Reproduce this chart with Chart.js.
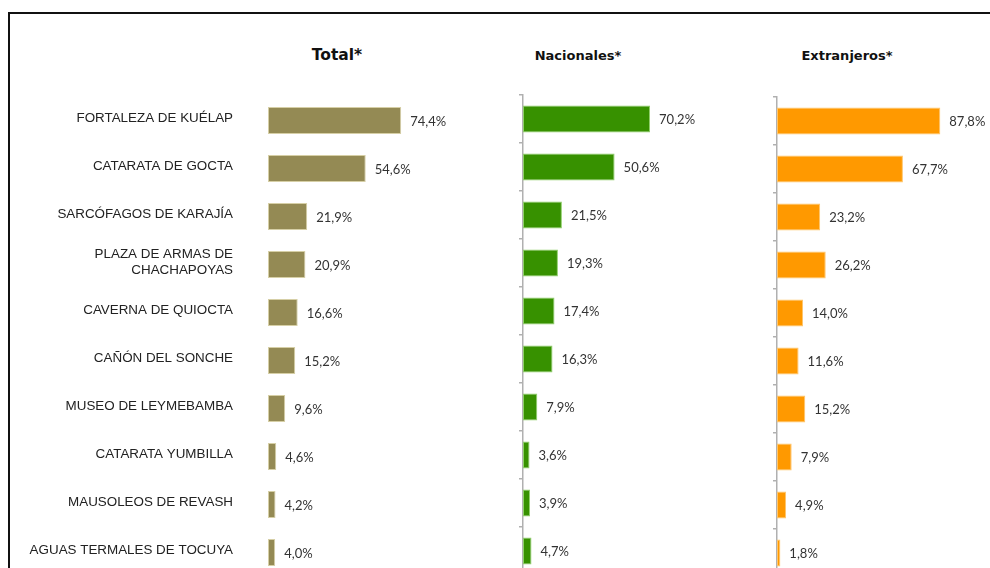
<!DOCTYPE html>
<html><head><meta charset="utf-8">
<script src="https://cdn.jsdelivr.net/npm/chart.js@4.4.1/dist/chart.umd.min.js"></script>
<style>
html,body{margin:0;padding:0;width:990px;height:568px;overflow:hidden;background:#fff;}
#frame{position:absolute;left:8px;top:12px;width:1000px;height:600px;border-top:2px solid #111;border-left:2px solid #111;}
.t{position:absolute;font-family:"DejaVu Sans",sans-serif;font-weight:bold;color:#111;transform:translate(-50%,-50%);white-space:nowrap;}
canvas{position:absolute;top:0;}
</style></head><body>
<div id="frame"></div>
<div class="t" style="left:337px;top:55px;font-size:15.5px">Total*</div>
<div class="t" style="left:578px;top:55px;font-size:13px">Nacionales*</div>
<div class="t" style="left:847px;top:55px;font-size:13px">Extranjeros*</div>
<canvas id="c1" width="500" height="600" style="left:0px"></canvas>
<canvas id="c2" width="300" height="600" style="left:480px"></canvas>
<canvas id="c3" width="250" height="600" style="left:740px"></canvas>
<script>
const categories = ['FORTALEZA DE KUÉLAP', 'CATARATA DE GOCTA', 'SARCÓFAGOS DE KARAJÍA', ['PLAZA DE ARMAS DE', 'CHACHAPOYAS'], 'CAVERNA DE QUIOCTA', 'CAÑÓN DEL SONCHE', 'MUSEO DE LEYMEBAMBA', 'CATARATA YUMBILLA', 'MAUSOLEOS DE REVASH', 'AGUAS TERMALES DE TOCUYA'];
const total = [74.4, 54.6, 21.9, 20.9, 16.6, 15.2, 9.6, 4.6, 4.2, 4.0];
const nacionales = [70.2, 50.6, 21.5, 19.3, 17.4, 16.3, 7.9, 3.6, 3.9, 4.7];
const extranjeros = [87.8, 67.7, 23.2, 26.2, 14.0, 11.6, 15.2, 7.9, 4.9, 1.8];
const panelTitles = ['Total*', 'Nacionales*', 'Extranjeros*'];

const valueLabels = {
  id: 'valueLabels',
  afterDatasetsDraw(chart) {
    const ctx = chart.ctx;
    const meta = chart.getDatasetMeta(0);
    const data = chart.data.datasets[0].data;
    ctx.save();
    ctx.font = '13px Lato, "Open Sans", sans-serif';
    ctx.fillStyle = '#333';
    ctx.textAlign = 'left';
    ctx.textBaseline = 'middle';
    meta.data.forEach((bar, i) => {
      const txt = data[i].toFixed(1).replace('.', ',') + '%';
      ctx.fillText(txt, bar.x + 9, bar.y + 1);
    });
    ctx.restore();
  }
};

function make(id, values, color, border, leftWidth, top, showLabels, areaWidth, canvasWidth) {
  return new Chart(document.getElementById(id), {
    type: 'bar',
    data: {
      labels: categories,
      datasets: [{
        data: values,
        backgroundColor: color,
        borderColor: border,
        borderWidth: 1,
        borderSkipped: false,
        barPercentage: 0.5625,
        categoryPercentage: 1
      }]
    },
    options: {
      indexAxis: 'y',
      responsive: false,
      animation: false,
      events: [],
      layout: { padding: { left: 0, top: top, bottom: 600 - top - 480, right: canvasWidth - leftWidth - areaWidth } },
      plugins: { legend: { display: false }, tooltip: { enabled: false } },
      scales: {
        x: { display: false, min: 0, max: 100 },
        y: {
          afterFit(scale) { scale.width = leftWidth; scale.paddingTop = 0; scale.paddingBottom = 0; },
          ticks: showLabels ? {
            display: true,
            color: '#222',
            font: { family: '"Liberation Sans", Arial, sans-serif', size: 13.4, lineHeight: 1.15 },
            padding: 35,
            labelOffset: -2
          } : { display: false },
          grid: showLabels ? { display: false, drawTicks: false } : {
            display: true, drawOnChartArea: false, drawTicks: true, tickLength: 4, color: '#b0b0b0', lineWidth: 1.5, offset: true
          },
          border: showLabels ? { display: false } : { display: true, color: '#b0b0b0', width: 1.5 }
        }
      }
    },
    plugins: [valueLabels]
  });
}

make('c1', total, '#948a54', '#d6cfa6', 268, 96.5, true, 179, 500);
make('c2', nacionales, '#379100', '#8fcf6a', 43, 95, false, 181, 300);
make('c3', extranjeros, '#ff9900', '#ffc56a', 37, 97, false, 186, 250);
</script>
</body></html>
